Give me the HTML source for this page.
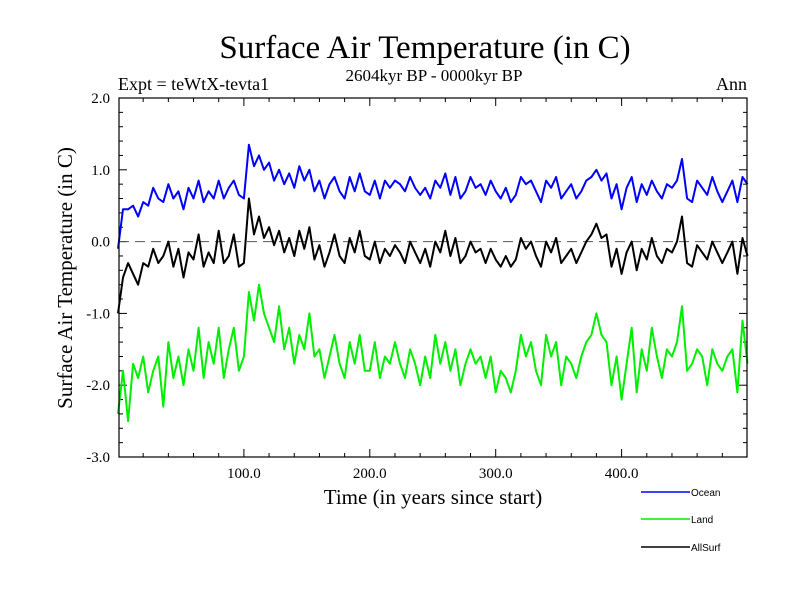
<!DOCTYPE html>
<html><head><meta charset="utf-8"><style>
body{margin:0;background:#fff;}
svg text{font-family:"Liberation Serif",serif;}
</style></head><body>
<svg id="chart" width="800" height="600" xmlns="http://www.w3.org/2000/svg">
<rect width="800" height="600" fill="#fff"/>
<text x="425" y="58" font-size="33" text-anchor="middle">Surface Air Temperature (in C)</text>
<text x="434" y="81" font-size="17" text-anchor="middle">2604kyr BP - 0000kyr BP</text>
<text x="118" y="90" font-size="18">Expt = teWtX-tevta1</text>
<text x="747" y="90" font-size="18" text-anchor="end">Ann</text>
<text x="433" y="504" font-size="21" text-anchor="middle">Time (in years since start)</text>
<text transform="translate(72,278) rotate(-90)" font-size="21" text-anchor="middle">Surface Air Temperature (in C)</text>
<g id="ticks"></g>
<line id="zero" stroke="#555" stroke-width="1" stroke-dasharray="10,6"/>
<g id="series" fill="none" stroke-width="2"></g>
<rect x="119" y="98" width="628" height="359" fill="none" stroke="#000" stroke-width="1.2"/>
<g id="legend"></g>
</svg>
<script>
const years = [];
for (let i = 0; i <= 125; i++) years.push(i * 4);
const ocean = [-0.1,0.45,0.45,0.5,0.35,0.55,0.5,0.75,0.6,0.55,
0.8,0.6,0.7,0.45,0.75,0.6,0.85,0.55,0.7,0.6,
0.85,0.6,0.75,0.85,0.65,0.6,1.35,1.05,1.2,1.0,
1.1,0.85,1.0,0.8,0.95,0.75,1.05,0.85,1.0,0.7,
0.85,0.6,0.8,0.9,0.7,0.6,0.9,0.7,0.95,0.7,
0.65,0.85,0.6,0.85,0.75,0.85,0.8,0.7,0.9,0.75,
0.65,0.75,0.6,0.85,0.75,0.95,0.65,0.9,0.6,0.7,
0.9,0.75,0.8,0.65,0.85,0.7,0.6,0.75,0.55,0.65,
0.9,0.8,0.85,0.7,0.55,0.85,0.75,0.9,0.6,0.7,
0.8,0.6,0.7,0.85,0.9,1.0,0.85,0.95,0.6,0.8,
0.45,0.75,0.9,0.55,0.8,0.65,0.85,0.7,0.6,0.8,
0.75,0.85,1.15,0.6,0.55,0.85,0.75,0.65,0.9,0.7,
0.55,0.7,0.85,0.55,0.9,0.8];
const allsurf = [-1.0,-0.5,-0.3,-0.45,-0.6,-0.3,-0.35,-0.1,-0.3,-0.2,
0.0,-0.35,-0.1,-0.5,-0.15,-0.25,0.1,-0.35,-0.15,-0.3,
0.15,-0.3,-0.2,0.1,-0.35,-0.3,0.6,0.1,0.35,0.05,
0.2,-0.05,0.15,-0.15,0.05,-0.2,0.15,-0.1,0.2,-0.25,
-0.05,-0.35,-0.15,0.1,-0.2,-0.3,0.05,-0.15,0.15,-0.2,
-0.25,0.0,-0.3,-0.1,-0.2,-0.05,-0.15,-0.3,0.0,-0.15,
-0.3,-0.1,-0.35,0.0,-0.15,0.15,-0.2,0.05,-0.3,-0.2,
0.0,-0.15,-0.1,-0.3,-0.1,-0.25,-0.35,-0.2,-0.35,-0.25,
0.05,-0.1,0.0,-0.2,-0.35,0.0,-0.15,0.05,-0.3,-0.2,
-0.1,-0.3,-0.15,0.0,0.1,0.25,0.05,0.1,-0.35,-0.1,
-0.45,-0.15,0.0,-0.4,-0.1,-0.25,0.05,-0.2,-0.3,-0.1,
-0.15,0.0,0.35,-0.3,-0.35,-0.05,-0.15,-0.25,0.0,-0.15,
-0.3,-0.15,0.0,-0.45,0.05,-0.2];
const land = [-2.4,-1.8,-2.5,-1.7,-1.9,-1.6,-2.1,-1.8,-1.6,-2.3,
-1.4,-1.9,-1.6,-2.0,-1.5,-1.8,-1.2,-1.9,-1.4,-1.7,
-1.2,-1.9,-1.5,-1.2,-1.8,-1.6,-0.7,-1.1,-0.6,-1.0,
-1.2,-1.4,-0.9,-1.5,-1.2,-1.7,-1.3,-1.5,-1.0,-1.6,
-1.5,-1.9,-1.6,-1.3,-1.7,-1.9,-1.4,-1.7,-1.3,-1.8,
-1.8,-1.4,-1.9,-1.6,-1.7,-1.4,-1.7,-1.9,-1.5,-1.7,
-2.0,-1.6,-1.9,-1.3,-1.7,-1.4,-1.8,-1.5,-2.0,-1.7,
-1.5,-1.7,-1.6,-1.9,-1.6,-2.1,-1.8,-1.9,-2.1,-1.8,
-1.3,-1.6,-1.4,-1.8,-2.0,-1.3,-1.6,-1.4,-2.0,-1.6,
-1.7,-1.9,-1.6,-1.4,-1.3,-1.0,-1.3,-1.4,-2.0,-1.6,
-2.2,-1.7,-1.2,-2.1,-1.5,-1.8,-1.2,-1.6,-1.9,-1.5,
-1.6,-1.4,-0.9,-1.8,-1.7,-1.5,-1.6,-2.0,-1.5,-1.7,
-1.8,-1.6,-1.5,-2.1,-1.1,-1.7];
const xTickValues = [100, 200, 300, 400];
const xTickLabels = ["100.0", "200.0", "300.0", "400.0"];
const yTickValues = [2, 1, 0, -1, -2, -3];
const yTickLabels = ["2.0", "1.0", "0.0", "-1.0", "-2.0", "-3.0"];
const seriesNames = ["Ocean", "Land", "AllSurf"];

const X0 = 119, X1 = 747, Y0 = 98, Y1 = 457;
const xMin = 0.8, xMax = 499.6, yMin = -3, yMax = 2;
const xs = v => X0 + (v - xMin) / (xMax - xMin) * (X1 - X0);
const ys = v => Y1 - (v - yMin) / (yMax - yMin) * (Y1 - Y0);
const NS = "http://www.w3.org/2000/svg";
function mk(tag, attrs, parent) {
  const e = document.createElementNS(NS, tag);
  for (const k in attrs) e.setAttribute(k, attrs[k]);
  parent.appendChild(e);
  return e;
}
const tg = document.getElementById('ticks');
for (let v = 20; v < 500; v += 20) {
  const major = v % 100 === 0, L = major ? 8 : 4, x = xs(v);
  const t1 = mk('line', {x1: x, x2: x, y1: Y1, y2: Y1 - L, stroke: '#000'}, tg);
  
  
  const t2 = mk('line', {x1: x, x2: x, y1: Y0, y2: Y0 + L, stroke: '#000'}, tg);
  
  
}
xTickValues.forEach((v, i) => {
  const t = mk('text', {x: xs(v), y: 478, 'font-size': 15, 'text-anchor': 'middle'}, tg);
  t.textContent = xTickLabels[i];
  
  
});
for (let k = 0; k <= 25; k++) {
  const v = -3 + k * 0.2, major = k % 5 === 0, L = major ? 8 : 4, y = ys(v);
  const t1 = mk('line', {x1: X0, x2: X0 + L, y1: y, y2: y, stroke: '#000'}, tg);
  
  
  const t2 = mk('line', {x1: X1, x2: X1 - L, y1: y, y2: y, stroke: '#000'}, tg);
  
  
}
yTickValues.forEach((v, i) => {
  const t = mk('text', {x: 110, y: ys(v) + 5, 'font-size': 15, 'text-anchor': 'end'}, tg);
  t.textContent = yTickLabels[i];
  
  
});
const z = document.getElementById('zero');
z.setAttribute('x1', X0); z.setAttribute('x2', X1);
z.setAttribute('y1', ys(0)); z.setAttribute('y2', ys(0));
const sg = document.getElementById('series');
const colors = ["#0000ff", "#00ee00", "#000000"];
[ocean, land, allsurf].forEach((arr, i) => {
  const d = arr.map((v, j) => (j ? 'L' : 'M') + xs(years[j]).toFixed(1) + ',' + ys(v).toFixed(1)).join('');
  const p = mk('path', {d: d, stroke: colors[i], 'stroke-linejoin': 'round'}, sg);
  
  
});
const lg = document.getElementById('legend');
const legY = [492, 519, 547];
seriesNames.forEach((n, i) => {
  const g = mk('g', {}, lg);
  
  
  mk('line', {x1: 641, x2: 690, y1: legY[i], y2: legY[i], stroke: colors[i], 'stroke-width': 1.5}, g);
  const t = mk('text', {x: 691, y: legY[i] + 4, 'font-size': 10, style: 'font-family:"Liberation Sans",sans-serif'}, g);
  t.textContent = n;
});
</script>
</body></html>
